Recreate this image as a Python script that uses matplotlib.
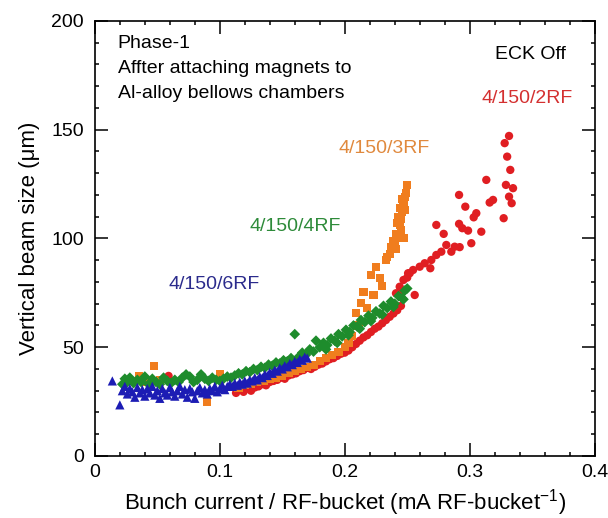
import matplotlib.pyplot as plt
from matplotlib.ticker import MultipleLocator

plt.rcParams['font.family'] = ['Liberation Sans', 'DejaVu Sans']
plt.rcParams['mathtext.default'] = 'regular'

# 4/150/6RF (blue triangles)
blue_x = [0.014, 0.020, 0.022, 0.024, 0.026, 0.028, 0.030, 0.032, 0.034, 0.036,
          0.038, 0.040, 0.042, 0.044, 0.046, 0.048, 0.050, 0.052, 0.054, 0.056,
          0.058, 0.060, 0.062, 0.064, 0.066, 0.068, 0.070, 0.072, 0.074, 0.076,
          0.078, 0.080, 0.082, 0.084, 0.086, 0.088, 0.090, 0.092, 0.094, 0.096,
          0.098, 0.100, 0.102, 0.104, 0.106, 0.108, 0.110, 0.112, 0.114, 0.116,
          0.118, 0.120, 0.122, 0.124, 0.126, 0.128, 0.130, 0.132, 0.134, 0.136,
          0.138, 0.140, 0.142, 0.144, 0.146, 0.148, 0.150, 0.152, 0.154, 0.156,
          0.158, 0.160, 0.162, 0.164, 0.166, 0.168, 0.170]
blue_y = [34.5, 23.5, 30.0, 32.0, 28.5, 31.0, 29.5, 27.0, 31.5, 29.0,
          30.5, 27.5, 31.0, 29.0, 32.0, 28.0, 30.0, 26.5, 31.0, 29.0,
          28.0, 31.5, 29.5, 27.5, 30.0, 32.0, 28.5, 30.5, 27.0, 31.0,
          29.5, 26.5, 30.0, 31.5, 29.0, 30.5, 28.5, 31.0, 30.0, 32.0,
          29.5, 31.0, 32.5, 30.5, 32.0, 33.0, 32.0, 33.5, 32.5, 34.0,
          33.0, 34.5, 33.5, 35.0, 34.5, 36.0, 35.0, 36.5, 36.0, 37.5,
          37.0, 38.5, 38.0, 39.5, 39.0, 40.5, 40.0, 41.5, 41.0, 42.5,
          42.0, 43.5, 43.0, 44.5, 44.0, 45.5, 45.0]

# 4/150/4RF (green diamonds)
green_x = [0.022, 0.024, 0.026, 0.028,
           0.031, 0.034, 0.037, 0.040, 0.043, 0.046, 0.049, 0.052, 0.055, 0.058,
           0.061, 0.064, 0.067, 0.070, 0.073, 0.076, 0.079, 0.082, 0.085, 0.088,
           0.091, 0.094, 0.097, 0.100, 0.103, 0.106, 0.109, 0.112, 0.115, 0.118,
           0.121, 0.124, 0.127, 0.130, 0.133, 0.136, 0.139, 0.142, 0.145, 0.148,
           0.151, 0.154, 0.157, 0.160, 0.163, 0.166, 0.169, 0.172, 0.175,
           0.177,
           0.180, 0.183, 0.186, 0.189, 0.192, 0.195, 0.198, 0.201, 0.204, 0.207,
           0.210, 0.213, 0.216, 0.219, 0.222, 0.225, 0.228, 0.231, 0.234, 0.237,
           0.240, 0.243, 0.246,
           0.248, 0.250,
           0.185, 0.194, 0.203, 0.212, 0.221, 0.230, 0.239, 0.247]
green_y = [33.0, 35.5, 34.0, 36.0,
           33.5, 35.0, 34.0, 36.5, 33.0, 35.5, 34.0, 33.0, 36.0, 34.5,
           33.5, 35.0, 34.0, 36.0, 37.5, 36.5, 34.0, 35.0, 37.5, 35.5,
           34.5, 36.0, 35.0, 34.5, 35.5, 36.5, 36.0, 37.0, 38.0, 37.5,
           39.0, 38.5, 40.0, 39.5, 41.0, 40.5, 42.0, 41.5, 43.0, 42.5,
           44.0, 43.5, 45.0, 56.0, 45.5, 47.5, 46.5, 49.0, 48.0,
           53.0,
           50.0, 52.0, 51.0, 54.0, 53.0, 56.0, 55.0, 58.0, 57.0, 60.0,
           59.5, 62.5, 61.5, 64.5, 63.5, 66.5, 65.5, 69.0, 68.0, 71.0,
           70.0, 73.5, 72.5,
           76.0, 77.0,
           49.0, 52.0, 55.5, 58.5, 62.0, 65.0, 68.5, 72.0]

# 4/150/3RF (orange squares)
orange_x = [0.035, 0.040, 0.047, 0.052, 0.090, 0.100,
            0.115, 0.120, 0.125, 0.130, 0.135, 0.140, 0.145, 0.150, 0.155,
            0.160, 0.165, 0.170, 0.175, 0.180, 0.185, 0.190, 0.195, 0.200,
            0.203, 0.206, 0.209, 0.211, 0.213, 0.215, 0.218, 0.221, 0.223,
            0.225, 0.228, 0.230,
            0.233, 0.234, 0.236, 0.237, 0.238, 0.239, 0.240,
            0.241, 0.241, 0.242, 0.243, 0.243, 0.244, 0.244, 0.245, 0.245,
            0.246, 0.246, 0.247, 0.247, 0.248, 0.248, 0.249, 0.250]
orange_y = [36.8, 34.0, 41.5, 35.0, 25.0, 37.7,
            31.5, 32.5, 33.0, 34.0, 34.5, 35.5, 36.0, 37.0, 38.0,
            39.0, 40.0, 41.0, 42.0, 43.5, 45.0, 46.5, 48.0, 50.0,
            52.0, 55.0, 65.7, 60.0, 70.3, 75.5, 68.0, 83.2, 74.0,
            87.0, 81.8, 78.0,
            90.0, 91.6, 93.0, 96.0, 95.0, 99.0, 98.0,
            102.0, 95.0, 107.0, 101.0, 110.0, 106.0, 114.0, 104.0, 109.0,
            112.0, 118.0, 100.0, 116.0, 113.0, 119.0, 121.0, 124.5]

# 4/150/2RF (red circles)
red_x = [0.059,
         0.113, 0.116, 0.119, 0.122, 0.125, 0.128, 0.131, 0.134, 0.137, 0.140,
         0.143, 0.146, 0.149, 0.152, 0.155, 0.158, 0.161, 0.164, 0.167, 0.170,
         0.173, 0.176, 0.179, 0.182, 0.185, 0.188, 0.191, 0.194, 0.197, 0.200,
         0.203, 0.206, 0.209, 0.212, 0.215, 0.218, 0.221, 0.224, 0.227, 0.230,
         0.233, 0.236, 0.239, 0.242, 0.245,
         0.241, 0.244, 0.247, 0.244, 0.250, 0.252,
         0.2507, 0.2547, 0.256, 0.260, 0.264, 0.2685, 0.2693, 0.2733, 0.2773, 0.2853,
         0.288, 0.292, 0.2813, 0.3013, 0.2792, 0.2987, 0.3093, 0.2941, 0.2915, 0.2733,
         0.3272, 0.3032, 0.3053, 0.2965, 0.3336, 0.316, 0.3187, 0.3315, 0.2915, 0.3347,
         0.329, 0.3133, 0.3325, 0.330, 0.328, 0.3315]
red_y = [36.8,
         29.0, 30.5, 29.5, 31.0, 30.0, 31.5, 32.0, 33.0, 32.5, 34.0,
         34.5, 35.0, 36.0, 35.5, 37.0, 37.5, 38.0, 39.0, 39.5, 40.5,
         40.0, 41.0, 42.0, 42.5, 43.5, 44.5, 45.0, 46.0, 47.0, 47.5,
         48.5, 50.0, 51.5, 53.0, 54.5, 55.5, 57.0, 58.5, 59.5, 61.0,
         62.5, 64.0, 65.5, 67.0, 69.0,
         74.8, 77.8, 80.9, 75.0, 82.0, 84.0,
         84.0, 85.5, 74.0, 87.0, 88.6, 86.3, 90.1, 92.4, 93.9, 93.9,
         96.2, 96.0, 97.0, 97.8, 102.1, 103.6, 103.1, 104.7, 106.7, 106.2,
         109.3, 109.7, 111.6, 114.6, 116.2, 116.5, 117.7, 119.2, 120.0, 123.1,
         124.6, 126.9, 131.5, 137.6, 143.8, 147.1]

fig = plt.figure(figsize=(6.08, 5.18), dpi=100)
ax = fig.add_axes([0.156, 0.1197, 0.822, 0.840])

ax.scatter(red_x, red_y, marker='o', s=36, color='#e01e22', edgecolors='none', zorder=2)
ax.scatter(orange_x, orange_y, marker='s', s=34, color='#f07d1e', edgecolors='none', zorder=3)
ax.scatter(green_x, green_y, marker='D', s=30, color='#1e8c2c', edgecolors='none', zorder=4)
ax.scatter(blue_x, blue_y, marker='^', s=44, color='#1c1cb4', edgecolors='none', zorder=5)

ax.set_xlim(0, 0.4)
ax.set_ylim(0, 200)
ax.set_xticks([0, 0.1, 0.2, 0.3, 0.4])
ax.set_xticklabels(['0', '0.1', '0.2', '0.3', '0.4'])
ax.set_yticks([0, 50, 100, 150, 200])
ax.xaxis.set_minor_locator(MultipleLocator(0.02))
ax.yaxis.set_minor_locator(MultipleLocator(10))
ax.tick_params(which='both', direction='in', top=True, right=True, labelsize=14, width=1.1)
ax.tick_params(which='major', length=9.5, pad=6)
ax.tick_params(which='minor', length=3)
ax.tick_params(axis='y', pad=8)
for s in ax.spines.values():
    s.set_linewidth(1.2)

ax.set_xlabel('Bunch current / RF-bucket (mA RF-bucket$^{-1}$)', fontsize=16, labelpad=4)
ax.set_ylabel('Vertical beam size (\u03bcm)', fontsize=16, labelpad=8)

ax.text(0.046, 0.949, 'Phase-1', transform=ax.transAxes, fontsize=14, va='center')
ax.text(0.046, 0.891, 'Affter attaching magnets to', transform=ax.transAxes, fontsize=14, va='center')
ax.text(0.046, 0.834, 'Al-alloy bellows chambers', transform=ax.transAxes, fontsize=14, va='center')
ax.text(0.942, 0.922, 'ECK Off', transform=ax.transAxes, fontsize=14, va='center', ha='right')

ax.text(0.3456, 164.5, '4/150/2RF', color='#d43030', fontsize=14, ha='center', va='center')
ax.text(0.2316, 141.5, '4/150/3RF', color='#e0893d', fontsize=14, ha='center', va='center')
ax.text(0.160, 105.4, '4/150/4RF', color='#2e8b3a', fontsize=14, ha='center', va='center')
ax.text(0.0956, 79.0, '4/150/6RF', color='#2b2b8c', fontsize=14, ha='center', va='center')

plt.savefig('out.png', dpi=100)
